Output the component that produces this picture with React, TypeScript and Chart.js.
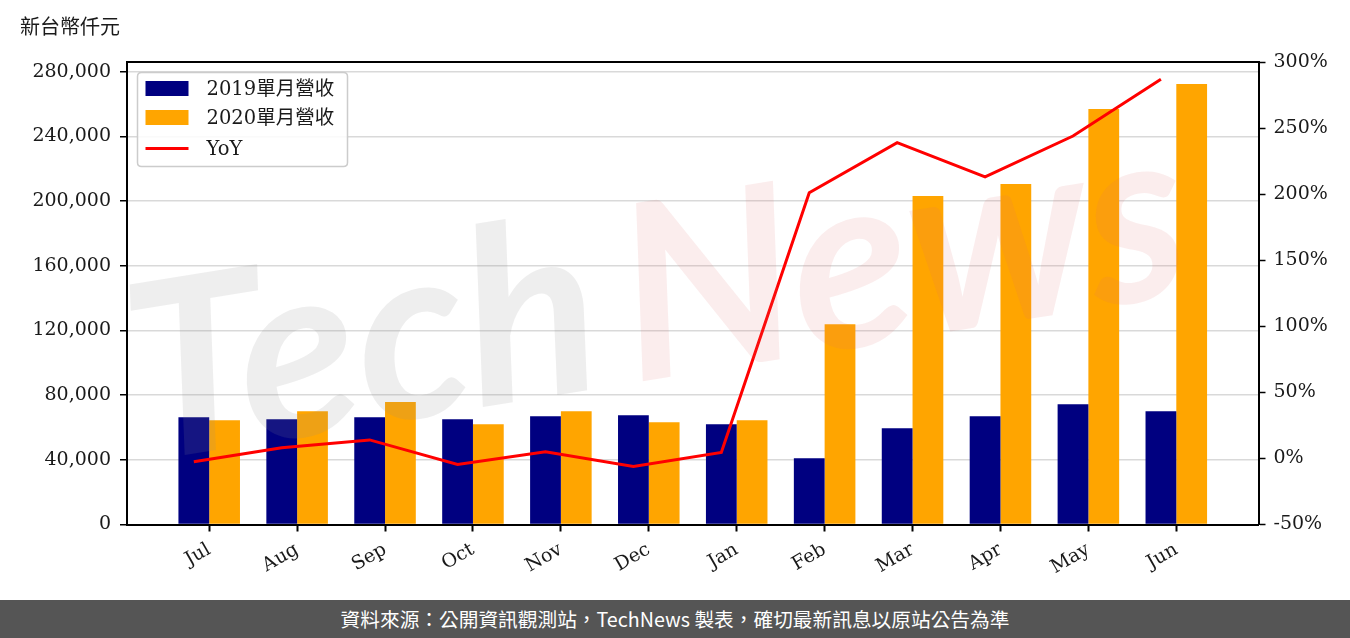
import React, { useEffect, useRef } from 'react';
import { Chart, registerables } from 'chart.js';

Chart.register(...registerables);

const MONTHS = ['Jul', 'Aug', 'Sep', 'Oct', 'Nov', 'Dec', 'Jan', 'Feb', 'Mar', 'Apr', 'May', 'Jun'];
const REV_2019 = [66400, 65100, 66400, 65100, 67000, 67600, 62000, 41000, 59600, 67000, 74400, 70100];
const REV_2020 = [64500, 70100, 75700, 62000, 70100, 63300, 64500, 123900, 203100, 210500, 256900, 272400];
const YOY = [-2.5, 8, 14, -4.5, 5, -6, 4.5, 201, 239, 213, 244, 287];
const LEFT_TICKS = [0, 40000, 80000, 120000, 160000, 200000, 240000, 280000];
const RIGHT_TICKS = [-50, 0, 50, 100, 150, 200, 250, 300];
const LABEL_2019 = '2019單月營收';
const LABEL_2020 = '2020單月營收';
const LABEL_YOY = 'YoY';
const UNIT_TITLE = '新台幣仟元';
const SOURCE_NOTE = '資料來源：公開資訊觀測站，TechNews 製表，確切最新訊息以原站公告為準';
const WATERMARK = ['Tech', 'News'];

const COLOR_2019 = '#000080';
const COLOR_2020 = '#FFA500';
const COLOR_YOY = '#FF0000';
const SERIF = "'DejaVu Serif', 'Noto Sans CJK TC', serif";
const TEXT_COLOR = '#1a1a1a';

const BAR_GROUP = 0.7; // fraction of a month slot used by the two bars
const BAR_HALF = BAR_GROUP / 4; // centre of the first bar relative to the month
const X_MARGIN = 0.05 * (MONTHS.length - 1 + BAR_GROUP);

const framePlugin = {
  id: 'frame',
  afterDatasetsDraw(chart: any) {
    const { ctx, chartArea } = chart;
    // watermark
    ctx.save();
    ctx.translate(chartArea.left + 15, chartArea.top + 400);
    ctx.rotate(-0.16);
    ctx.font = "italic bold 245px Lato, 'Open Sans', sans-serif";
    ctx.textBaseline = 'alphabetic';
    ctx.fillStyle = 'rgba(140,140,140,0.15)';
    ctx.fillText(WATERMARK[0], 0, 0);
    const w = ctx.measureText(WATERMARK[0]).width;
    ctx.fillStyle = 'rgba(225,110,110,0.12)';
    ctx.fillText(WATERMARK[1], w + 25, 0);
    ctx.restore();
  },
  afterDraw(chart: any) {
    const { ctx, chartArea } = chart;
    ctx.save();
    // top frame line
    ctx.strokeStyle = '#000';
    ctx.lineWidth = 2;
    ctx.beginPath();
    ctx.moveTo(chartArea.left - 1, chartArea.top);
    ctx.lineTo(chartArea.right + 1, chartArea.top);
    ctx.stroke();

    // legend box
    const bx = chartArea.left + 10.5;
    const by = chartArea.top + 10.5;
    const bw = 210;
    const bh = 94;
    const r = 4;
    ctx.fillStyle = 'rgba(255,255,255,0.85)';
    ctx.strokeStyle = '#cccccc';
    ctx.lineWidth = 1.5;
    ctx.beginPath();
    ctx.moveTo(bx + r, by);
    ctx.lineTo(bx + bw - r, by);
    ctx.quadraticCurveTo(bx + bw, by, bx + bw, by + r);
    ctx.lineTo(bx + bw, by + bh - r);
    ctx.quadraticCurveTo(bx + bw, by + bh, bx + bw - r, by + bh);
    ctx.lineTo(bx + r, by + bh);
    ctx.quadraticCurveTo(bx, by + bh, bx, by + bh - r);
    ctx.lineTo(bx, by + r);
    ctx.quadraticCurveTo(bx, by, bx + r, by);
    ctx.closePath();
    ctx.fill();
    ctx.stroke();

    const items = chart.data.datasets
      .map((d: any) => d)
      .sort((a: any, b: any) => (a.legendIndex ?? 0) - (b.legendIndex ?? 0));
    const rowY = [by + 16, by + 45, by + 76];
    ctx.font = `19.5px ${SERIF}`;
    ctx.textBaseline = 'middle';
    ctx.textAlign = 'left';
    items.forEach((d: any, i: number) => {
      const y = rowY[i];
      const sx = bx + 8;
      if (d.type === 'line') {
        ctx.strokeStyle = d.borderColor;
        ctx.lineWidth = 3;
        ctx.beginPath();
        ctx.moveTo(sx, y);
        ctx.lineTo(sx + 43, y);
        ctx.stroke();
      } else {
        ctx.fillStyle = d.backgroundColor;
        ctx.fillRect(sx, y - 7.5, 43, 15);
      }
      ctx.fillStyle = TEXT_COLOR;
      ctx.fillText(d.label, sx + 61, y + 1);
    });
    ctx.restore();
  },
};

export default function App() {
  const canvasRef = useRef<HTMLCanvasElement | null>(null);

  useEffect(() => {
    if (!canvasRef.current) return;
    const leftMax = Math.max(...REV_2020, ...REV_2019) * 1.05;
    const tickFont = { family: SERIF, size: 19 };
    const chart = new Chart(canvasRef.current, {
      type: 'bar',
      data: {
        datasets: [
          {
            type: 'bar',
            label: LABEL_2019,
            data: REV_2019.map((v, i) => ({ x: i, y: v })),
            backgroundColor: COLOR_2019,
            borderWidth: 0,
            barPercentage: 1,
            categoryPercentage: BAR_GROUP,
            xAxisID: 'x',
            yAxisID: 'y',
            order: 1,
            legendIndex: 0,
          } as any,
          {
            type: 'bar',
            label: LABEL_2020,
            data: REV_2020.map((v, i) => ({ x: i, y: v })),
            backgroundColor: COLOR_2020,
            borderWidth: 0,
            barPercentage: 1,
            categoryPercentage: BAR_GROUP,
            xAxisID: 'x',
            yAxisID: 'y',
            order: 1,
            legendIndex: 1,
          } as any,
          {
            type: 'line',
            label: LABEL_YOY,
            data: YOY.map((v, i) => ({ x: i - BAR_HALF, y: v })),
            borderColor: COLOR_YOY,
            backgroundColor: COLOR_YOY,
            borderWidth: 3,
            pointRadius: 0,
            tension: 0,
            fill: false,
            xAxisID: 'x',
            yAxisID: 'y1',
            order: 0,
            legendIndex: 2,
          } as any,
        ],
      },
      options: {
        animation: false,
        responsive: false,
        devicePixelRatio: 1,
        layout: { padding: { top: 62, left: 0, right: 0, bottom: 0 } },
        plugins: {
          legend: { display: false },
          tooltip: { enabled: false },
        },
        scales: {
          x: {
            type: 'linear',
            min: -BAR_GROUP / 2 - X_MARGIN,
            max: MONTHS.length - 1 + BAR_GROUP / 2 + X_MARGIN,
            offset: false,
            afterBuildTicks: (s: any) => {
              s.ticks = MONTHS.map((_, i) => ({ value: i }));
            },
            afterFit: (s: any) => {
              s.height = 75.5;
            },
            grid: {
              offset: false,
              drawOnChartArea: false,
              drawTicks: true,
              tickLength: 7,
              tickColor: '#000',
              tickWidth: 2,
            },
            border: { display: true, color: '#000', width: 2 },
            ticks: {
              autoSkip: false,
              maxRotation: 30,
              minRotation: 30,
              padding: 7,
              color: TEXT_COLOR,
              font: tickFont,
              callback: (v: any) => MONTHS[Math.round(v)] ?? '',
            },
          } as any,
          y: {
            type: 'linear',
            position: 'left',
            min: 0,
            max: leftMax,
            afterBuildTicks: (s: any) => {
              s.ticks = LEFT_TICKS.map((v) => ({ value: v }));
            },
            afterFit: (s: any) => {
              s.width = 127;
            },
            grid: {
              color: '#d9d9d9',
              lineWidth: 1.5,
              drawTicks: true,
              tickLength: 7,
              tickColor: '#000',
              tickWidth: 1.5,
            },
            border: { display: true, color: '#000', width: 2 },
            ticks: {
              padding: 9,
              color: TEXT_COLOR,
              font: tickFont,
              callback: (v: any) => Number(v).toLocaleString('en-US'),
            },
          } as any,
          y1: {
            type: 'linear',
            position: 'right',
            min: RIGHT_TICKS[0],
            max: RIGHT_TICKS[RIGHT_TICKS.length - 1],
            afterBuildTicks: (s: any) => {
              s.ticks = RIGHT_TICKS.map((v) => ({ value: v }));
            },
            afterFit: (s: any) => {
              s.width = 91.5;
            },
            grid: {
              drawOnChartArea: false,
              drawTicks: true,
              tickLength: 7,
              tickColor: '#000',
              tickWidth: 1.5,
            },
            border: { display: true, color: '#000', width: 2 },
            ticks: {
              padding: 8,
              color: TEXT_COLOR,
              font: tickFont,
              callback: (v: any) => `${v}%`,
            },
          } as any,
        },
      },
      plugins: [framePlugin],
    });
    return () => chart.destroy();
  }, []);

  return (
    <div
      style={{
        position: 'absolute',
        left: 0,
        top: 0,
        width: 1350,
        height: 638,
        background: '#fff',
        overflow: 'hidden',
      }}
    >
      <canvas
        ref={canvasRef}
        width={1350}
        height={600}
        style={{ position: 'absolute', left: 0, top: 0, width: 1350, height: 600 }}
      />
      <div
        style={{
          position: 'absolute',
          left: 20,
          top: 14,
          fontFamily: SERIF,
          fontSize: 20,
          color: TEXT_COLOR,
          lineHeight: '26px',
        }}
      >
        {UNIT_TITLE}
      </div>
      <div
        style={{
          position: 'absolute',
          left: 0,
          top: 600,
          width: 1350,
          height: 38,
          background: '#555555',
          color: '#ffffff',
          fontFamily: "'Noto Sans CJK TC', 'Noto Sans', sans-serif",
          fontSize: 19.7,
          lineHeight: '38px',
          textAlign: 'center',
        }}
      >
        {SOURCE_NOTE}
      </div>
    </div>
  );
}
